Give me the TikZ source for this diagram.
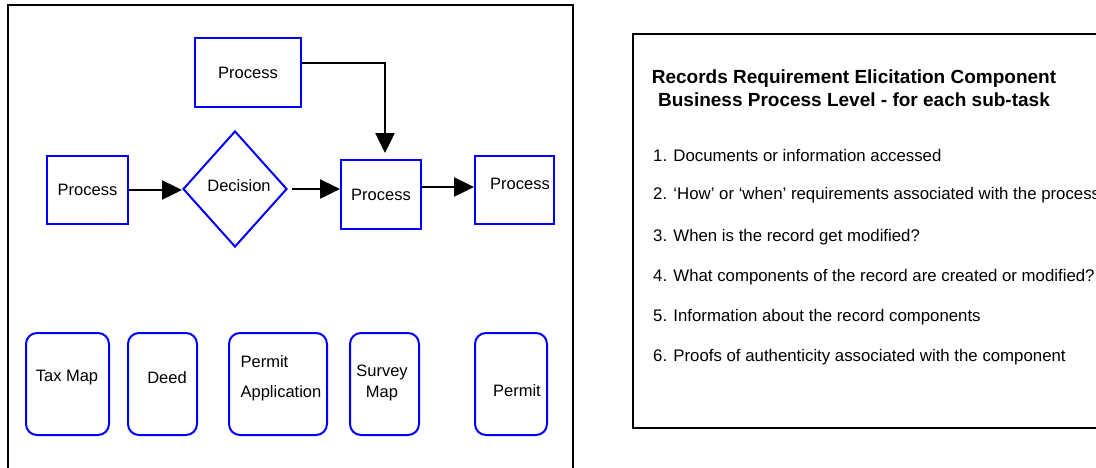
\documentclass[tikz,border=0pt]{standalone}
\usepackage{fontspec}
\setmainfont{Liberation Sans}
\usetikzlibrary{arrows.meta,shapes.geometric,calc}
\definecolor{flowblue}{RGB}{0,0,255}

\begin{document}
\begin{tikzpicture}[x=1pt,y=-1pt,
  font=\fontsize{16.5}{19}\selectfont,
  frame/.style={draw=black,line width=2.2pt},
  proc/.style={draw=flowblue,line width=2pt,rectangle,inner sep=0pt},
  dec/.style={draw=flowblue,line width=2pt,diamond,inner sep=0pt},
  doc/.style={draw=flowblue,line width=2pt,rectangle,rounded corners=11pt,inner sep=0pt,
              minimum height=102pt},
  arr/.style={line width=2.5pt,-{Triangle[length=20pt,width=19pt]}},
  ttl/.style={font=\fontsize{19}{23}\selectfont\bfseries,align=center},
  item/.style={font=\fontsize{16.8}{20}\selectfont,anchor=west,inner sep=0pt}
]
\useasboundingbox (0,0) rectangle (1096,467);
\clip (0,0) rectangle (1096,467);

% outer frames
\draw[frame] (8,5) rectangle (573,490);
\draw[frame] (633,34) rectangle (1120,428);

% process flow
\node[proc,minimum width=106pt,minimum height=69pt] (ptop) at (248,72.5) {Process};
\node[proc,minimum width=81pt,minimum height=68pt] (pleft) at (87.5,190) {Process};
\node[dec,minimum width=104pt,minimum height=116pt,
      label={[xshift=4pt,yshift=3pt]center:Decision}] (dec) at (235,189) {};
\node[proc,minimum width=80pt,minimum height=69pt] (pmid) at (381,194.5) {Process};
\node[proc,minimum width=79pt,minimum height=68pt,
      label={[xshift=5.5pt,yshift=6pt]center:Process}] (pright) at (514.5,190) {};

\draw[arr] (pleft.east) -- (pleft.east -| dec.west);
\draw[arr,shorten <=4pt] (dec.east) -- (dec.east -| pmid.west);
\draw[arr] ([yshift=7.5pt]pmid.east) -- ([yshift=7.5pt]pmid.east -| pright.west);
\draw[arr,shorten >=6pt] ([yshift=9.5pt]ptop.east) -| ([xshift=4pt]pmid.north);

% record documents
\node[doc,minimum width=83pt,label={[xshift=-0.5pt,yshift=6pt]center:Tax Map}] (tax) at (67.5,384) {};
\node[doc,minimum width=69pt,label={[xshift=4.5pt,yshift=6pt]center:Deed}] (deed) at (162.5,384) {};
\node[doc,minimum width=98pt,
      label={[xshift=3pt,yshift=6pt,align=left,font=\fontsize{16.5}{30}\selectfont]center:Permit\\Application}] (papp) at (278,384) {};
\node[doc,minimum width=69pt,
      label={[xshift=-2.5pt,yshift=1.5pt,align=center,font=\fontsize{16.5}{21}\selectfont]center:Survey\\Map}] (survey) at (384.5,384) {};
\node[doc,minimum width=72pt,label={[xshift=6pt,yshift=-7pt]center:Permit}] (permit) at (511,384) {};

% requirement checklist
\node[ttl] (title) at (854,88.5) {Records Requirement Elicitation Component\\Business Process Level - for each sub-task};
\node[item] (i1) at (653,155) {1. Documents or information accessed};
\node[item] (i2) at (653,195) {2. ‘How’ or ‘when’ requirements associated with the process};
\node[item] (i3) at (653,237) {3. When is the record get modified?};
\node[item] (i4) at (653,277) {4. What components of the record are created or modified?};
\node[item] (i5) at (653,317) {5. Information about the record components};
\node[item] (i6) at (653,357) {6. Proofs of authenticity associated with the component};
\end{tikzpicture}
\end{document}
